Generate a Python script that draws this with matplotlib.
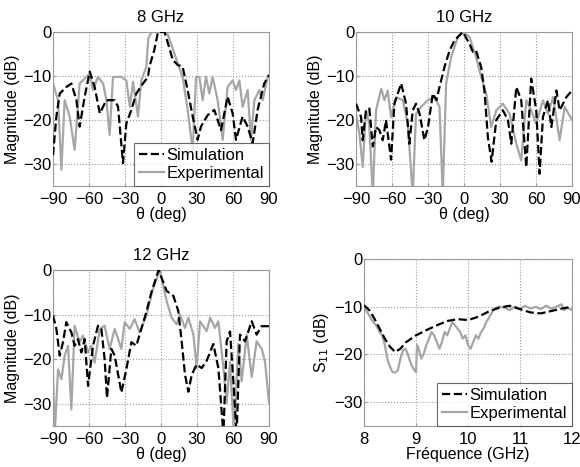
import numpy as np
import matplotlib
matplotlib.use("Agg")
import matplotlib.pyplot as plt

plt.rcParams['font.family'] = ['Liberation Sans', 'DejaVu Sans']
plt.rcParams['font.size'] = 12

# ---- 8 GHz ----
th8_sim = [-90, -87.2, -84.4, -78.9, -74.7, -70.5, -67.8, -63.6, -59.4, -55.3, -51, -45.6, -38.6, -35.8,
           -31.7, -28.9, -24.7, -20.6, -15, -10.8, -9.7, -5.6, -2.5, 3, 5.8, 9.9, 14, 18, 22.2, 26.4,
           30.5, 33.3, 38.9, 44.4, 50, 55.5, 59.7, 62.5, 68, 72.2, 76.4, 80.5, 86, 90]
m8_sim = [-28, -19.2, -14, -12.5, -11.7, -15.5, -21.5, -14.7, -9, -12.5, -18.5, -15.5, -15.5, -17,
          -29.8, -20.8, -17.7, -14, -11.7, -10.2, -7.9, -4.1, 0, 0, -2.6, -6.4, -7.5, -7.9, -13.2, -19.2,
          -24.5, -21.5, -18.9, -17.7, -22.3, -14.7, -18.5, -24.5, -19.2, -21.5, -25.3, -17.7, -11.7, -9.8]
th8_exp = [-90, -85.8, -83, -80.3, -76.1, -72, -67.8, -63.6, -59.4, -56.7, -52.5, -48.3, -45.5, -42.8,
           -40, -33, -28.9, -26, -23.3, -19.2, -16.4, -12.2, -10.6, -8, 5, 10.3, 14, 18, 22.2, 26.4,
           29.2, 32, 34.7, 37.5, 40.3, 43, 47.2, 51.4, 55.5, 59.7, 62.5, 65.3, 68, 72.2, 75, 77.8,
           82, 84.7, 88.9, 90]
m8_exp = [-11.7, -15.5, -31.3, -15.5, -19.2, -26.8, -11.7, -10.6, -9.4, -13.2, -10.2, -11.7, -15.5, -23.4,
          -10.2, -10.2, -11, -17, -11.3, -19.2, -11, -7.9, -1.5, 0, 0, -4.2, -7.2, -10.2, -17.7, -26.8,
          -10.2, -10.2, -15.5, -10.2, -14, -10.2, -15.5, -24.5, -12.5, -11, -13.2, -11, -17, -13.2, -24.5, -15.5,
          -13.2, -15.5, -10.2, -9.8]

# ---- 10 GHz ----
th10_sim = [-90, -85.8, -84.4, -81.7, -78.9, -76, -73.3, -70.5, -67.7, -65, -60.8, -58, -52.4, -48.3,
            -45.5, -42.7, -40, -37, -33, -30, -26, -23, -20.4, -16.3, -12, -7.9, -1, 4.6, 7.4, 10,
            14.3, 17, 19.9, 23, 26.9, 32.4, 36.6, 39.4, 43.6, 47.7, 51.9, 56, 60.2, 63, 65.8, 70,
            72.8, 77, 79.7, 85.3, 90]
m10_sim = [-16.3, -19.3, -24.6, -17.8, -17.4, -26, -21.6, -22.3, -24.6, -20, -29, -16.3, -11.7, -16.3,
           -25.4, -17.8, -16.3, -18.6, -24.6, -21.6, -14, -15.5, -12.5, -8, -4.2, -1.9, 0, -2.7, -4.5, -4.2,
           -8, -13.3, -23.9, -29.5, -20, -17.8, -20, -25.4, -12.5, -15.5, -30.7, -10.6, -17.8, -32.2, -19.3, -15.5,
           -21.6, -13.3, -17.8, -14.8, -13.3]
th10_exp = [-90, -87.2, -84.4, -81.7, -79, -76, -73.3, -69, -66.3, -63.6, -60.8, -56.6, -51, -46.9,
            -42.7, -40, -35.7, -30, -24.6, -20.4, -17.7, -14.9, -10.7, -5.1, -1, 4.6, 10, 14.3, 18.5,
            22.7, 26.9, 32.4, 38, 43.6, 47.7, 51.9, 56, 60.2, 65.8, 70, 74.2, 79.7, 83.9, 90]
m10_exp = [-18.6, -23, -30.7, -17.8, -20.8, -37, -17.8, -12.9, -15.5, -13.3, -19.3, -14.8, -15.5, -20.8,
           -37, -18.6, -17, -15.5, -14.8, -17, -37, -11.7, -5.7, -1.1, 0, -1.1, -5.7, -10.2, -14,
           -21.6, -17.8, -16.3, -18.6, -25.4, -29.2, -15.5, -17.8, -20.8, -15.5, -18.6, -14.8, -24.6, -17, -20]

# ---- 12 GHz ----
th12_sim = [-90, -87.2, -84.4, -81.7, -78.9, -74.7, -72, -69.2, -66.4, -63.6, -60.8, -56.7, -52.5, -49.7,
            -47, -45, -41.4, -38.6, -33, -28.9, -24.7, -20.6, -16.4, -12.2, -8, -2, 4.7, 10.3, 14.4,
            17.2, 20, 22.8, 25.6, 29.7, 33.9, 38, 43.6, 47.8, 52, 54.7, 57.5, 60.3, 63, 65.8, 70,
            75.6, 79.7, 83.9, 90]
m12_sim = [-10.2, -13.2, -19.2, -16.2, -11.7, -14, -17, -15.5, -18.5, -15.5, -26, -17, -12.5, -13.2,
           -20, -28.7, -17.7, -19.2, -27.5, -22.3, -16.2, -17, -13.2, -9.4, -5, 0, -4.7, -5.8, -9.2,
           -16, -23.5, -27.3, -23.5, -21.2, -22, -20.4, -16.6, -22, -37, -16, -13.8, -25, -37, -14.5, -16,
           -11.5, -14.5, -12.6, -12.6]
th12_exp = [-90, -88.6, -85.8, -83, -80.3, -77.5, -74.7, -72, -67.8, -65, -60.8, -58, -55.3, -51,
            -47, -42.8, -38.6, -33, -30.3, -26, -22, -17.8, -12.2, -7, -1, 4.7, 8.9, 13, 15.8, 20,
            22.8, 27, 29.7, 32.5, 38, 41, 45, 47.8, 52, 54.7, 57.5, 60.8, 64.4, 67.2, 71.4, 75.6,
            79.7, 84, 86.7, 90]
m12_exp = [-23.8, -37, -22.3, -24.5, -19.2, -17, -31.3, -12.5, -16.2, -14.7, -18.5, -17, -20.8, -13.2,
           -12.5, -17.7, -13.2, -17.7, -11.7, -13.2, -11, -14, -10.2, -4.5, 0, -7, -10.7, -12.2, -10, -13,
           -10.7, -14.5, -22, -11.5, -13.7, -10.7, -13, -11.5, -22, -29.8, -20.6, -37, -16.6, -25, -14.5, -24,
           -16, -17.7, -20.6, -29.8]

# ---- S11 ----
f_sim = [8.0, 8.1, 8.2, 8.3, 8.4, 8.5, 8.6, 8.7, 8.8, 9.0, 9.2, 9.4, 9.6, 9.8, 10.0, 10.2, 10.4, 10.6,
         10.8, 11.0, 11.2, 11.4, 11.6, 11.8, 12.0]
s11_sim = [-9.7, -10.7, -12.5, -14.6, -16.7, -18.4, -19.5, -18.8, -17.5, -16, -14.9, -13.9, -13, -12.6,
           -12.8, -12.1, -11, -10.2, -9.8, -10.5, -11.2, -11.4, -10.9, -10.4, -10]
f_exp = [8.0, 8.05, 8.1, 8.15, 8.2, 8.25, 8.3, 8.35, 8.4, 8.45, 8.5, 8.55, 8.6, 8.65, 8.7, 8.75, 8.8,
         8.85, 8.9, 8.95, 9.0, 9.02, 9.05, 9.1, 9.15, 9.2, 9.25, 9.3, 9.35, 9.4, 9.45, 9.5, 9.55, 9.6,
         9.65, 9.7, 9.75, 9.8, 9.85, 9.9, 9.95, 10.0, 10.05, 10.1, 10.15, 10.2, 10.25, 10.3, 10.35, 10.4,
         10.45, 10.5, 10.6, 10.7, 10.8, 10.9, 11.0, 11.1, 11.2, 11.3, 11.4, 11.5, 11.6, 11.7, 11.8, 11.85,
         11.9, 12.0]
s11_exp = [-9.7, -11, -11.8, -12.8, -13.5, -14.2, -15.3, -16, -18, -21, -22.6, -23.7, -23.8, -23.3, -20.9,
           -19.1, -18.8, -20.2, -21.9, -23, -23.7, -18, -18.8, -20.9, -19.8, -18, -16.7, -15.3, -16, -17.4,
           -18.8, -17.4, -15.3, -16, -14.6, -13.2, -13.9, -14.6, -15.3, -16.7, -16, -18, -18.8, -17.4, -16,
           -16.7, -15.3, -14.6, -13.2, -12.4, -11.4, -10.4, -10, -10.2, -10.7, -10, -10.4, -9.8, -10.4, -10,
           -10.5, -9.8, -10.4, -10, -9.5, -10.7, -10.2, -10.7]

GRAY = '#a6a6a6'
SPINE = '#9a9a9a'

fig = plt.figure(figsize=(5.8, 4.67), dpi=100)


def style(ax):
    for s in ax.spines.values():
        s.set_color(SPINE)
        s.set_linewidth(0.8)
    ax.grid(True, linestyle=':', color='#9a9a9a', linewidth=0.8)
    ax.tick_params(direction='in', length=2, color=SPINE, labelsize=12)
    ax.tick_params(axis='x', pad=4)
    ax.tick_params(axis='y', pad=1)
    ax.set_ylim(-35, 0)
    ax.set_yticks([0, -10, -20, -30])


def add_legend(ax):
    leg = ax.legend(loc='lower right', fancybox=False, edgecolor='#444444', handlelength=1.5,
                    borderpad=0.3, labelspacing=0.2, handletextpad=0.15, borderaxespad=0.0,
                    fontsize=12)
    leg.get_frame().set_linewidth(0.8)
    leg.set_zorder(5)


def pattern(rect, th_s, m_s, th_e, m_e, title, legend=False):
    ax = fig.add_axes(rect)
    ax.plot(th_s, m_s, color='black', linestyle='--', linewidth=1.6, label='Simulation', zorder=3)
    ax.plot(th_e, m_e, color=GRAY, linewidth=1.6, label='Experimental', zorder=2)
    style(ax)
    ax.set_xlim(-90, 90)
    ax.set_xticks(np.arange(-90, 91, 30))
    ax.set_title(title, fontsize=12, pad=7)
    ax.set_xlabel('θ (deg)', fontsize=11.5, labelpad=0)
    ax.set_ylabel('Magnitude (dB)', fontsize=11.5, labelpad=2)
    if legend:
        add_legend(ax)
    return ax


pattern([0.0914, 0.6017, 0.3724, 0.3298], th8_sim, m8_sim, th8_exp, m8_exp, '8 GHz', legend=True)
pattern([0.6138, 0.6017, 0.3724, 0.3298], th10_sim, m10_sim, th10_exp, m10_exp, '10 GHz')
pattern([0.0914, 0.0878, 0.3724, 0.3340], th12_sim, m12_sim, th12_exp, m12_exp, '12 GHz')

ax = fig.add_axes([0.6276, 0.0878, 0.3586, 0.3576])
ax.plot(f_sim, s11_sim, color='black', linestyle='--', linewidth=1.6, label='Simulation', zorder=3)
ax.plot(f_exp, s11_exp, color=GRAY, linewidth=1.6, label='Experimental', zorder=2)
style(ax)
ax.set_xlim(8, 12)
ax.set_xticks([8, 9, 10, 11, 12])
ax.set_xlabel('Fréquence (GHz)', fontsize=11.5, labelpad=0)
ax.set_ylabel('S$_{11}$ (dB)', fontsize=11.5, labelpad=2)
add_legend(ax)

fig.savefig('out.png', dpi=100)
